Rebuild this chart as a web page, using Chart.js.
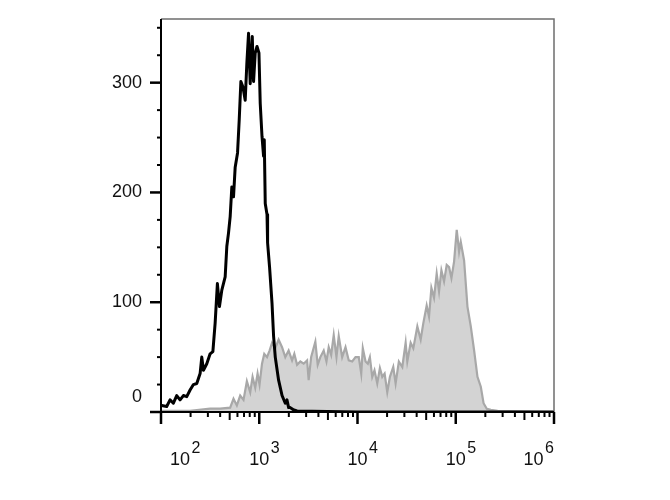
<!DOCTYPE html>
<html>
<head>
<meta charset="utf-8">
<title>Histograma</title>
<script src="https://cdn.jsdelivr.net/npm/chart.js@4.4.1/dist/chart.umd.min.js"></script>
<style>
  html, body { margin: 0; padding: 0; background: #fff; }
  canvas { display: block; }
</style>
</head>
<body>
<canvas id="grafica" width="670" height="500"></canvas>
<script>
// canal en log10 y numero de eventos
var control_log = [2.007, 2.058, 2.092, 2.126, 2.160, 2.194, 2.228, 2.262, 2.296, 2.330,
	2.364, 2.398, 2.415, 2.432, 2.466, 2.500, 2.528, 2.551, 2.574, 2.595,
	2.619, 2.653, 2.670, 2.687, 2.704, 2.721, 2.738, 2.755, 2.779, 2.796,
	2.813, 2.834, 2.857, 2.874, 2.891, 2.908, 2.929, 2.942, 2.959, 2.977,
	2.997, 3.010, 3.028, 3.044, 3.051, 3.061, 3.079, 3.085, 3.105, 3.130,
	3.146, 3.163, 3.197, 3.232, 3.265, 3.282, 3.299, 3.316, 3.347, 3.385,
	4.000, 6.000];
var control_counts = [6, 5, 11, 8, 15, 11, 15, 14, 20, 25,
	26, 35, 50, 38, 44, 53, 55, 81, 117, 96,
	111, 123, 151, 163, 178, 205, 196, 223, 236, 266,
	301, 296, 284, 318, 345, 299, 342, 301, 327, 333,
	327, 281, 251, 233, 248, 190, 180, 154, 132, 99,
	69, 50, 29, 15, 8, 11, 4, 4, 2, 1,
	0, 0];

var marcado_log = [2.000, 2.296, 2.500, 2.602, 2.704, 2.738, 2.772, 2.806, 2.840, 2.874,
	2.908, 2.932, 2.959, 2.983, 3.003, 3.028, 3.051, 3.079, 3.105, 3.130,
	3.163, 3.197, 3.232, 3.265, 3.299, 3.334, 3.357, 3.385, 3.418, 3.452,
	3.487, 3.503, 3.528, 3.571, 3.595, 3.622, 3.656, 3.684, 3.707, 3.732,
	3.758, 3.786, 3.809, 3.844, 3.878, 3.911, 3.946, 3.980, 4.013, 4.038,
	4.054, 4.082, 4.105, 4.126, 4.150, 4.173, 4.201, 4.228, 4.252, 4.276,
	4.303, 4.330, 4.364, 4.388, 4.421, 4.456, 4.490, 4.507, 4.541, 4.568,
	4.609, 4.643, 4.670, 4.704, 4.728, 4.752, 4.779, 4.806, 4.830, 4.854,
	4.881, 4.908, 4.932, 4.956, 4.983, 5.010, 5.034, 5.051, 5.085, 5.119,
	5.153, 5.187, 5.221, 5.255, 5.283, 5.316, 5.357, 5.426, 6.000];
var marcado_counts = [1, 1, 3, 3, 4, 12, 6, 15, 11, 28,
	18, 32, 22, 35, 25, 44, 53, 50, 56, 63,
	58, 66, 59, 50, 56, 47, 53, 43, 46, 44,
	47, 29, 50, 64, 43, 50, 56, 46, 59, 52,
	70, 50, 69, 50, 59, 47, 46, 50, 50, 35,
	58, 46, 44, 50, 32, 38, 26, 40, 32, 35,
	18, 32, 41, 26, 46, 41, 63, 46, 63, 58,
	78, 66, 81, 97, 87, 113, 104, 126, 110, 129,
	119, 134, 132, 122, 137, 166, 146, 155, 138, 96,
	78, 56, 32, 23, 8, 3, 2, 1, 0];

var x_decadas = [2, 3, 4, 5, 6];
var y_ticks = [0, 100, 200, 300];
var y_max = 358;

function pares(logs, counts) {
	var res = [];
	for (var i = 0; i < logs.length; i++) {
		res.push({x: Math.pow(10, logs[i]), y: counts[i]});
	}
	return res;
}

// ejes dibujados a mano: marcas hacia fuera y etiquetas 10^n
var ejes = {
	id: 'ejes',
	afterDraw: function(chart) {
		var c = chart.ctx;
		var a = chart.chartArea;
		var xs = chart.scales.x, ys = chart.scales.y;
		c.save();

		// marco superior y derecho
		c.strokeStyle = '#6e6e6e';
		c.lineWidth = 1.5;
		c.beginPath();
		c.moveTo(a.left, a.top);
		c.lineTo(a.right, a.top);
		c.lineTo(a.right, a.bottom);
		c.stroke();

		// ejes
		c.strokeStyle = '#000';
		c.lineWidth = 2;
		c.beginPath();
		c.moveTo(a.left, a.top);
		c.lineTo(a.left, a.bottom);
		c.lineTo(a.right, a.bottom);
		c.stroke();

		// marcas del eje x
		for (var i = 0; i < x_decadas.length; i++) {
			var d = x_decadas[i];
			var px = xs.getPixelForValue(Math.pow(10, d));
			c.lineWidth = 2.5;
			c.beginPath(); c.moveTo(px, a.bottom); c.lineTo(px, a.bottom + 12); c.stroke();
			if (i == x_decadas.length - 1) break;
			for (var k = 2; k < 10; k++) {
				var pm = xs.getPixelForValue(k * Math.pow(10, d));
				c.lineWidth = 2;
				c.beginPath(); c.moveTo(pm, a.bottom); c.lineTo(pm, a.bottom + (k == 5 ? 8 : 5)); c.stroke();
			}
		}

		// marcas del eje y
		for (var v = 0; v <= y_max; v += 25) {
			var py = ys.getPixelForValue(v);
			var mayor = y_ticks.indexOf(v) >= 0;
			c.lineWidth = mayor ? 2.5 : 2;
			c.beginPath(); c.moveTo(a.left, py); c.lineTo(a.left - (mayor ? 11 : 4), py); c.stroke();
		}

		// etiquetas y
		c.fillStyle = '#111';
		c.font = '18px "Liberation Sans", Arial, sans-serif';
		c.textAlign = 'right';
		c.textBaseline = 'middle';
		for (var j = 0; j < y_ticks.length; j++) {
			var ty = ys.getPixelForValue(y_ticks[j]);
			c.fillText(String(y_ticks[j]), a.left - 19, Math.min(ty, a.bottom - 15));
		}

		// etiquetas x: 10 con exponente
		c.textAlign = 'left';
		c.textBaseline = 'alphabetic';
		for (var m = 0; m < x_decadas.length; m++) {
			var tx = xs.getPixelForValue(Math.pow(10, x_decadas[m]));
			c.font = '18px "Liberation Sans", Arial, sans-serif';
			var wb = c.measureText('10').width;
			c.font = '16px "Liberation Sans", Arial, sans-serif';
			var ws = c.measureText(String(x_decadas[m])).width;
			var x0 = tx - wb / 2;
			if (m == 0) x0 = a.left + 9;
			if (m == x_decadas.length - 1) x0 = a.right - wb - ws - 1.5;
			c.font = '18px "Liberation Sans", Arial, sans-serif';
			c.fillText('10', x0, a.bottom + 53);
			c.font = '16px "Liberation Sans", Arial, sans-serif';
			c.fillText(String(x_decadas[m]), x0 + wb + 1.5, a.bottom + 41);
		}
		c.restore();
	}
};

var ctx = document.getElementById('grafica').getContext('2d');
var chart = new Chart(ctx, {
	type: 'line',
	data: {
		datasets: [{
			label: 'Control',
			data: pares(control_log, control_counts),
			borderColor: '#000',
			borderWidth: 3,
			borderJoinStyle: 'round',
			fill: false,
			pointRadius: 0,
			tension: 0
		}, {
			label: 'Marcado',
			data: pares(marcado_log, marcado_counts),
			borderColor: '#a8a8a8',
			backgroundColor: '#d3d3d3',
			borderWidth: 2.2,
			fill: 'origin',
			pointRadius: 0,
			tension: 0
		}]
	},
	options: {
		responsive: false,
		animation: false,
		layout: {padding: {left: 161, top: 19, right: 116, bottom: 88}},
		plugins: {legend: {display: false}, tooltip: {enabled: false}},
		scales: {
			x: {type: 'logarithmic', min: 100, max: 1000000, display: false},
			y: {type: 'linear', min: 0, max: y_max, display: false}
		}
	},
	plugins: [ejes]
});
</script>
</body>
</html>
